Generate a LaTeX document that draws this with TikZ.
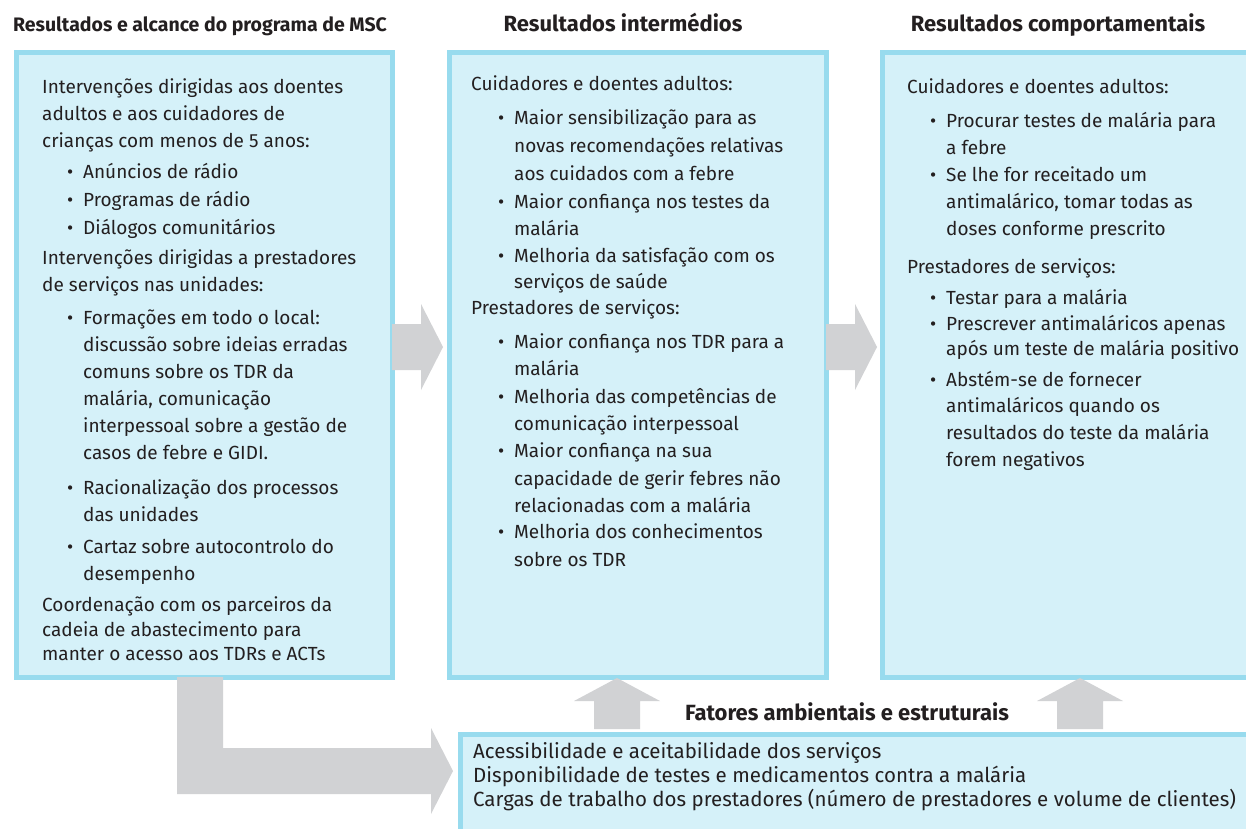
\documentclass[tikz,border=0pt]{standalone}
\usepackage{fontspec}
\setmainfont{Fira Sans}
\definecolor{bordc}{RGB}{152,219,238}
\definecolor{fillc}{RGB}{213,241,249}
\definecolor{arrc}{RGB}{209,210,212}
\definecolor{txtc}{RGB}{35,31,32}
\newlength\ind
\newcommand\itm[1]{\makebox[\ind][r]{\textbullet\hspace{10pt}}#1}
\newcommand\cnt[1]{\hspace*{\ind}#1}
\tikzset{
  panel/.style={draw=bordc, fill=fillc, line width=5pt, rectangle, inner sep=0pt, anchor=north west},
  blockarrow/.style={fill=arrc, draw=none},
  bodytext/.style={anchor=base west, inner sep=0pt, text=txtc, font=\fontsize{19}{27}\selectfont},
  title/.style={anchor=base, inner sep=0pt, text=txtc, font=\fontsize{22}{24}\selectfont\bfseries}
}
\begin{document}
\begin{tikzpicture}[x=1pt,y=-1pt]
\useasboundingbox (0,0) rectangle (1246,828);
\clip (0,0) rectangle (1246,828);
\fill[white] (0,0) rectangle (1246,828);

% panels
\node[panel, minimum width=376pt, minimum height=625pt] (b1) at (13.5,49.5) {};
\node[panel, minimum width=377pt, minimum height=625pt] (b2) at (446.5,49.5) {};
\node[panel, minimum width=400pt, minimum height=625pt] (b3) at (879.5,49.5) {};
\node[panel, minimum width=820pt, minimum height=120pt] (b4) at (457.5,731.5) {};

% block arrows
\fill[blockarrow] (392,324) -- (421,324) -- (421,304) -- (443,347) -- (421,390) -- (421,370) -- (392,370) -- cycle;
\fill[blockarrow] (826,324) -- (855,324) -- (855,304) -- (877,347) -- (855,390) -- (855,370) -- (826,370) -- cycle;
\fill[blockarrow] (594,729) -- (594,701) -- (574,701) -- (617,678) -- (660,701) -- (640,701) -- (640,729) -- cycle;
\fill[blockarrow] (1057,729) -- (1057,701) -- (1037,701) -- (1080,678) -- (1123,701) -- (1103,701) -- (1103,729) -- cycle;
\fill[blockarrow] (177,677) -- (223,677) -- (223,748) -- (431,748) -- (431,728) -- (453,771) -- (431,814) -- (431,794) -- (177,794) -- cycle;

% titles
\node[title, font=\fontsize{19.5}{22}\selectfont\bfseries] (t1) at (200,31) {Resultados e alcance do programa de MSC};
\node[title] (t2) at (623,31) {Resultados intermédios};
\node[title] (t3) at (1058,31) {Resultados comportamentais};
\node[title] (t4) at (847,720) {Fatores ambientais e estruturais};

% texts
\node[bodytext] (x1) at (42,93) {\setlength\ind{41pt}\parbox[t]{345pt}{\raggedright
Intervenções dirigidas aos doentes\\
adultos e aos cuidadores de\\
crianças com menos de 5 anos:\\[4pt]
\itm{Anúncios de rádio}\\[1pt]
\itm{Programas de rádio}\\[1pt]
\itm{Diálogos comunitários}\\[3pt]
Intervenções dirigidas a prestadores\\
de serviços nas unidades:\\[6pt]
\itm{Formações em todo o local:}\\
\cnt{discussão sobre ideias erradas}\\
\cnt{comuns sobre os TDR da}\\
\cnt{malária, comunicação}\\
\cnt{interpessoal sobre a gestão de}\\
\cnt{casos de febre e GIDI.}\\[8pt]
\itm{Racionalização dos processos}\\
\cnt{das unidades}\\[5pt]
\itm{Cartaz sobre autocontrolo do}\\
\cnt{desempenho}\\[4pt]
Coordenação com os parceiros da\\[-2pt]
cadeia de abastecimento para\\[-3pt]
manter o acesso aos TDRs e ACTs}};

\node[bodytext] (x2) at (471,90) {\setlength\ind{43pt}\parbox[t]{350pt}{\raggedright
Cuidadores e doentes adultos:\\[7pt]
\itm{Maior sensibilização para as}\\[1pt]
\cnt{novas recomendações relativas}\\[1pt]
\cnt{aos cuidados com a febre}\\[1pt]
\itm{Maior confiança nos testes da}\\
\cnt{malária}\\
\itm{Melhoria da satisfação com os}\\[-1pt]
\cnt{serviços de saúde}\\[-1pt]
Prestadores de serviços:\\[7pt]
\itm{Maior confiança nos TDR para a}\\
\cnt{malária}\\[1pt]
\itm{Melhoria das competências de}\\
\cnt{comunicação interpessoal}\\
\itm{Maior confiança na sua}\\[1pt]
\cnt{capacidade de gerir febres não}\\
\cnt{relacionadas com a malária}\\[-1pt]
\itm{Melhoria dos conhecimentos}\\[1pt]
\cnt{sobre os TDR}}};

\node[bodytext] (x3) at (907,93) {\setlength\ind{39pt}\parbox[t]{335pt}{\raggedright
Cuidadores e doentes adultos:\\[7pt]
\itm{Procurar testes de malária para}\\
\cnt{a febre}\\
\itm{Se lhe for receitado um}\\
\cnt{antimalárico, tomar todas as}\\
\cnt{doses conforme prescrito}\\[11pt]
Prestadores de serviços:\\[4pt]
\itm{Testar para a malária}\\[-1pt]
\itm{Prescrever antimaláricos apenas}\\[-2pt]
\cnt{após um teste de malária positivo}\\[4pt]
\itm{Abstém-se de fornecer}\\[-1pt]
\cnt{antimaláricos quando os}\\
\cnt{resultados do teste da malária}\\
\cnt{forem negativos}}};

\node[bodytext, font=\fontsize{20.5}{24}\selectfont] (x4) at (473,758) {\parbox[t]{780pt}{\raggedright
Acessibilidade e aceitabilidade dos serviços\\
Disponibilidade de testes e medicamentos contra a malária\\
Cargas de trabalho dos prestadores (número de prestadores e volume de clientes)}};
\end{tikzpicture}
\end{document}
